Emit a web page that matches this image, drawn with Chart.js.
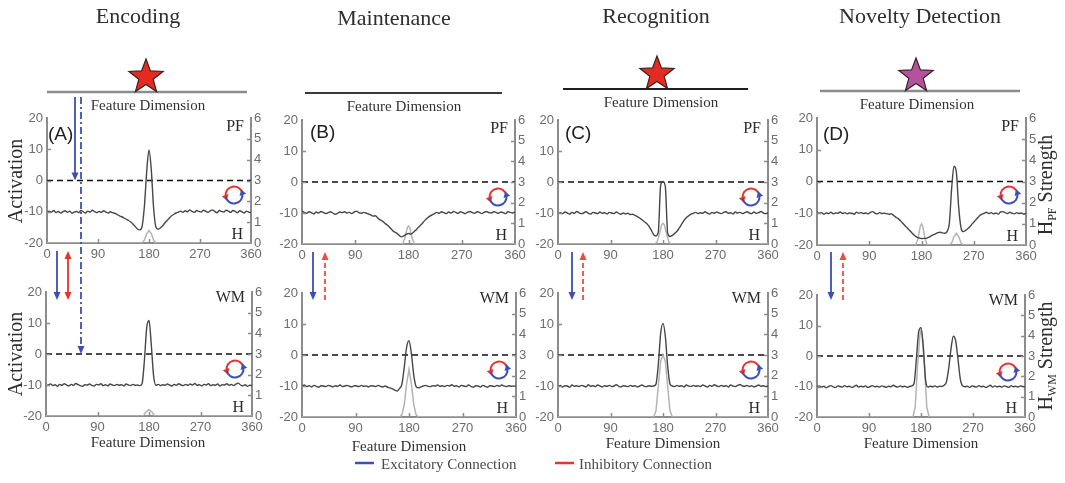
<!DOCTYPE html>
<html>
<head>
<meta charset="utf-8">
<script src="https://cdn.jsdelivr.net/npm/chart.js@4.4.1/dist/chart.umd.min.js"></script>
<style>
  html, body { margin: 0; padding: 0; background: #ffffff; }
  #stage { position: relative; width: 1065px; height: 483px; overflow: hidden; background: #ffffff; }
  #stage canvas { position: absolute; }
</style>
</head>
<body>
<div id="stage"></div>
<script>
// ---- Feature dimension sample points (degrees) ----
const angles = [0,4,8,12,16,20,24,28,32,36,40,44,48,52,56,60,64,68,72,76,80,84,88,92,96,100,104,108,112,116,
  120,124,128,132,136,140,144,148,152,156,160,164,168,172,176,180,184,188,192,196,200,204,208,212,216,220,224,228,232,236,
  240,244,248,252,256,260,264,268,272,276,280,284,288,292,296,300,304,308,312,316,320,324,328,332,336,340,344,348,352,356,360];

// ---- Tick labels ----
const xTicks = [0, 90, 180, 270, 360];
const activationTicks = [-20, -10, 0, 10, 20];
const strengthTicks = [0, 1, 2, 3, 4, 5, 6];

// ---- Field activation (PF = perceptual field, WM = working memory) ----
const encodingPF = [
  -10.2,-9.8,-10.1,-9.6,-10.3,-9.9,-10.4,-10.0,-9.7,-10.2,
  -9.8,-10.5,-10.1,-9.9,-10.3,-9.6,-10.0,-10.4,-9.8,-10.1,
  -9.5,-10.0,-10.3,-9.9,-10.2,-9.7,-10.1,-10.4,-10.0,-10.3,
  -10.5,-10.9,-11.3,-11.6,-12.0,-12.4,-12.8,-13.3,-14.0,-14.8,
  -15.6,-15.8,-14.5,-8.0,3.0,9.8,3.5,-8.5,-14.8,-15.6,
  -15.2,-14.5,-13.6,-12.8,-12.0,-11.3,-10.8,-10.4,-10.1,-9.8,
  -10.2,-9.7,-10.0,-9.4,-9.9,-10.2,-9.6,-9.9,-10.1,-9.5,
  -9.8,-10.2,-9.7,-9.4,-9.9,-10.3,-9.6,-9.9,-10.1,-9.5,
  -9.8,-10.2,-9.6,-9.9,-10.3,-9.7,-10.0,-10.4,-9.8,-10.1,
  -10.3];
const encodingWM = [
  -10.3,-10.0,-9.7,-10.2,-9.9,-10.4,-9.8,-10.1,-9.6,-10.0,
  -10.3,-9.8,-10.1,-9.5,-9.9,-10.2,-10.4,-9.9,-10.0,-9.7,
  -10.1,-10.3,-9.8,-10.0,-9.6,-10.2,-9.9,-10.3,-9.7,-10.0,
  -10.2,-9.8,-10.1,-9.9,-10.3,-9.7,-10.0,-10.2,-9.8,-10.1,
  -10.0,-10.2,-9.5,-2.0,8.5,10.8,3.0,-7.0,-10.1,-9.8,
  -10.2,-9.9,-10.1,-9.7,-10.0,-10.3,-9.8,-10.1,-9.6,-10.0,
  -10.2,-9.8,-10.1,-9.7,-10.0,-9.5,-10.1,-9.9,-10.3,-9.8,
  -10.0,-9.6,-10.2,-9.9,-10.1,-9.7,-10.3,-9.9,-10.0,-9.6,
  -10.1,-9.8,-10.2,-9.7,-9.4,-10.0,-10.3,-9.9,-10.4,-10.1,
  -10.2];
const maintenancePF = [
  -9.4,-9.8,-10.1,-9.6,-9.9,-10.3,-9.7,-10.0,-9.5,-9.8,
  -10.2,-9.9,-9.6,-10.0,-10.4,-10.1,-9.7,-9.9,-9.6,-10.0,
  -9.8,-10.2,-9.7,-9.4,-9.9,-10.1,-9.8,-10.0,-10.3,-10.6,
  -11.0,-10.9,-11.6,-12.2,-12.6,-13.3,-13.9,-14.6,-15.4,-16.1,
  -16.5,-17.2,-17.7,-17.4,-16.9,-16.6,-16.8,-16.3,-15.6,-14.8,
  -14.0,-13.2,-12.3,-11.6,-11.0,-10.6,-10.2,-9.8,-10.1,-9.6,
  -9.9,-10.2,-9.7,-10.0,-9.5,-9.8,-10.1,-9.6,-9.9,-10.2,
  -9.7,-9.5,-9.9,-10.1,-9.6,-9.8,-10.2,-9.7,-9.5,-9.9,
  -10.0,-9.6,-9.8,-10.1,-9.7,-9.9,-10.2,-9.6,-9.8,-10.0,
  -9.7];
const maintenanceWM = [
  -10.0,-9.7,-10.2,-9.9,-10.3,-9.8,-10.1,-10.4,-9.9,-10.0,
  -10.2,-9.8,-10.0,-10.3,-9.9,-10.1,-9.7,-10.2,-10.0,-9.8,
  -10.1,-10.3,-9.9,-10.0,-10.2,-9.8,-10.1,-10.0,-10.3,-9.9,
  -10.0,-10.2,-9.8,-10.1,-10.3,-10.0,-10.4,-10.6,-10.9,-11.3,
  -11.6,-10.8,-9.5,-4.0,2.5,4.6,0.5,-6.5,-10.2,-10.6,
  -10.3,-10.0,-9.8,-10.1,-10.2,-9.9,-10.0,-9.7,-10.1,-9.9,
  -10.2,-9.8,-10.0,-9.6,-10.1,-9.9,-10.3,-9.8,-10.0,-10.2,
  -9.7,-10.1,-10.4,-9.9,-10.0,-10.3,-9.8,-10.1,-10.4,-9.9,
  -10.0,-10.2,-9.8,-10.1,-9.7,-10.0,-10.2,-9.9,-10.1,-10.0,
  -10.1];
const recognitionPF = [
  -10.3,-9.9,-10.2,-9.7,-10.0,-10.4,-9.8,-10.1,-9.5,-9.9,
  -10.2,-10.0,-9.6,-10.1,-10.3,-9.8,-10.0,-10.2,-9.7,-10.1,
  -9.9,-10.3,-9.8,-10.0,-10.2,-9.7,-10.1,-10.4,-10.0,-10.3,
  -10.1,-10.5,-10.4,-10.8,-11.2,-11.6,-12.2,-12.8,-13.4,-14.3,
  -15.6,-17.0,-17.4,-16.0,-1.0,0.2,-1.5,-16.5,-17.6,-17.2,
  -16.6,-15.9,-14.8,-13.6,-12.4,-11.5,-10.9,-10.4,-10.1,-9.8,
  -10.2,-9.9,-10.1,-9.6,-10.0,-10.3,-9.8,-10.1,-9.7,-10.0,
  -10.2,-9.8,-9.6,-10.1,-9.9,-10.3,-9.7,-10.0,-9.8,-10.2,
  -9.9,-9.6,-10.0,-10.2,-9.7,-10.1,-9.9,-9.5,-10.0,-10.2,
  -10.0];
const recognitionWM = [
  -10.1,-9.8,-10.3,-9.9,-10.0,-10.4,-9.7,-10.1,-9.9,-10.2,
  -9.8,-10.0,-10.3,-9.6,-10.1,-9.9,-10.2,-9.7,-10.0,-10.3,
  -9.9,-10.1,-9.8,-10.2,-10.0,-9.6,-10.1,-10.3,-9.9,-10.0,
  -10.2,-9.8,-10.1,-9.9,-10.3,-10.0,-9.7,-10.1,-10.2,-9.9,
  -10.1,-10.0,-9.4,-3.0,7.0,10.2,6.0,-3.5,-9.4,-10.0,
  -10.2,-9.8,-10.1,-9.9,-10.3,-9.7,-10.0,-10.2,-9.8,-10.1,
  -9.9,-10.2,-9.7,-10.0,-10.3,-9.8,-10.1,-9.6,-10.0,-10.2,
  -9.8,-10.1,-9.9,-10.3,-9.7,-10.0,-10.2,-9.8,-9.5,-10.0,
  -10.1,-9.8,-10.2,-9.9,-10.3,-10.0,-9.7,-10.1,-9.9,-10.2,
  -10.0];
const noveltyPF = [
  -9.6,-10.0,-9.8,-10.3,-9.9,-10.1,-9.7,-10.2,-9.9,-10.0,
  -9.6,-10.1,-9.8,-10.2,-9.9,-10.0,-10.3,-9.7,-10.0,-9.8,
  -10.1,-9.9,-10.2,-9.7,-9.5,-10.0,-10.2,-9.8,-10.1,-10.0,
  -10.1,-10.3,-10.2,-10.7,-11.3,-11.7,-12.4,-13.2,-14.0,-14.7,
  -15.5,-16.3,-17.0,-17.5,-17.8,-18.0,-17.9,-17.9,-17.6,-17.2,
  -16.8,-16.5,-16.1,-16.0,-16.2,-16.3,-15.8,-13.0,-2.0,4.8,
  3.0,-8.0,-14.5,-15.8,-15.4,-14.8,-14.1,-13.2,-12.4,-11.6,
  -10.8,-10.3,-10.0,-9.7,-10.1,-9.8,-10.2,-9.9,-10.3,-9.6,
  -9.5,-9.8,-10.1,-9.7,-10.0,-10.2,-9.8,-10.1,-9.9,-10.3,
  -10.0];
const noveltyWM = [
  -10.1,-9.8,-10.2,-9.9,-10.4,-10.0,-9.7,-10.1,-10.3,-9.8,
  -10.0,-10.2,-9.7,-10.1,-9.9,-10.3,-10.0,-9.6,-10.2,-9.9,
  -10.1,-9.8,-10.3,-10.0,-9.7,-10.1,-9.9,-10.2,-9.8,-10.0,
  -10.3,-9.9,-10.1,-9.6,-10.0,-10.2,-9.8,-10.1,-9.9,-10.3,
  -10.0,-9.8,-9.0,-1.0,8.0,9.3,3.0,-8.0,-10.2,-9.9,
  -10.1,-9.8,-10.2,-9.9,-10.0,-9.6,-8.5,-4.0,2.5,6.5,
  5.0,-1.0,-7.5,-9.8,-10.1,-9.9,-10.3,-9.8,-10.0,-10.2,
  -9.7,-10.1,-9.9,-10.3,-10.0,-9.6,-10.2,-9.8,-10.1,-9.9,
  -10.2,-9.8,-10.0,-10.3,-9.7,-10.1,-9.9,-10.2,-9.8,-10.0,
  -10.1];

// ---- Habituation (H) strength, sampled where it changes ----
const hEncodingPF_x = [0,168,172,176,180,184,188,192,360];
const hEncodingPF_y = [0,0,0.15,0.45,0.6,0.45,0.15,0,0];
const hEncodingWM_x = [0,170,175,180,185,190,360];
const hEncodingWM_y = [0,0,0.2,0.3,0.2,0,0];
const hMaintenancePF_x = [0,170,174,178,180,182,186,190,360];
const hMaintenancePF_y = [0,0,0.3,0.8,0.87,0.8,0.3,0,0];
const hMaintenanceWM_x = [0,164,168,172,176,180,184,188,192,196,360];
const hMaintenanceWM_y = [0,0,0.1,0.6,1.6,2.3,1.6,0.6,0.1,0,0];
const hRecognitionPF_x = [0,166,170,174,178,180,182,186,190,194,360];
const hRecognitionPF_y = [0,0,0.1,0.5,0.95,1.0,0.95,0.5,0.1,0,0];
const hRecognitionWM_x = [0,164,168,172,176,180,184,188,192,196,360];
const hRecognitionWM_y = [0,0,0.3,1.5,2.7,3.0,2.7,1.5,0.3,0,0];
const hNoveltyPF_x = [0,170,174,178,180,182,186,190,228,232,236,240,244,248,252,360];
const hNoveltyPF_y = [0,0,0.3,0.9,1.0,0.9,0.3,0,0,0.1,0.4,0.55,0.4,0.1,0,0];
const hNoveltyWM_x = [0,166,170,174,178,180,182,186,190,194,360];
const hNoveltyWM_y = [0,0,0.5,2.5,4.0,4.3,4.0,2.5,0.5,0,0];

// ---- Threshold line (activation = 0) ----
const thresholdX = [0, 360];
const thresholdY = [0, 0];

// ---- Panel placement: plot-area box [left, right, top, bottom] in page pixels ----
const panels = [
  { act: encodingPF,    hx: hEncodingPF_x,    hy: hEncodingPF_y,    tag: 'PF', letter: '(A)', letterPos: [1, 17], box: [47, 251, 118, 243] },
  { act: maintenancePF, hx: hMaintenancePF_x, hy: hMaintenancePF_y, tag: 'PF', letter: '(B)', letterPos: [8, 13], box: [302, 515, 120, 244] },
  { act: recognitionPF, hx: hRecognitionPF_x, hy: hRecognitionPF_y, tag: 'PF', letter: '(C)', letterPos: [7, 14], box: [558, 768, 120, 244] },
  { act: noveltyPF,     hx: hNoveltyPF_x,     hy: hNoveltyPF_y,     tag: 'PF', letter: '(D)', letterPos: [6, 17], box: [817, 1026, 118, 245] },
  { act: encodingWM,    hx: hEncodingWM_x,    hy: hEncodingWM_y,    tag: 'WM', letter: '',    letterPos: [0, 0],  box: [46, 252, 292, 416] },
  { act: maintenanceWM, hx: hMaintenanceWM_x, hy: hMaintenanceWM_y, tag: 'WM', letter: '',    letterPos: [0, 0],  box: [302, 516, 293, 417] },
  { act: recognitionWM, hx: hRecognitionWM_x, hy: hRecognitionWM_y, tag: 'WM', letter: '',    letterPos: [0, 0],  box: [558, 768, 293, 417] },
  { act: noveltyWM,     hx: hNoveltyWM_x,     hy: hNoveltyWM_y,     tag: 'WM', letter: '',    letterPos: [0, 0],  box: [817, 1025, 295, 417] }
];

const AXIS_GRAY = '#8c8c8c';
const TICK_FONT = { family: '"Liberation Sans Narrow", "Arial Narrow", "Liberation Sans", Arial, sans-serif', size: 13 };
const SERIF = '"Liberation Serif", "Times New Roman", serif';
const SANS = '"Liberation Sans", Arial, sans-serif';
const BLUE = '#3b4fb4';
const RED = '#e8322b';

const PAD_LEFT = 40, PAD_RIGHT = 30, PAD_TOP = 14, PAD_BOTTOM = 22;

function arrowHead(ctx, x, y, dx, dy, len, half, color) {
  const n = Math.hypot(dx, dy); dx /= n; dy /= n;
  ctx.fillStyle = color;
  ctx.beginPath();
  ctx.moveTo(x, y);
  ctx.lineTo(x - dx * len - dy * half, y - dy * len + dx * half);
  ctx.lineTo(x - dx * len + dy * half, y - dy * len - dx * half);
  ctx.closePath();
  ctx.fill();
}

// Red/blue recurrent loop symbol
function loopIcon(ctx, cx, cy) {
  const r = 8.5;
  ctx.save();
  ctx.lineWidth = 2;
  ctx.setLineDash([]);
  const redEnd = -Math.PI - 0.3;
  ctx.strokeStyle = RED;
  ctx.beginPath(); ctx.arc(cx, cy, r, -0.2, redEnd, true); ctx.stroke();
  arrowHead(ctx, cx + r * Math.cos(redEnd) + Math.sin(redEnd) * 3, cy + r * Math.sin(redEnd) - Math.cos(redEnd) * 3,
            Math.sin(redEnd), -Math.cos(redEnd), 5.5, 3.5, RED);
  const blueEnd = -0.3;
  ctx.strokeStyle = BLUE;
  ctx.beginPath(); ctx.arc(cx, cy, r, Math.PI - 0.2, blueEnd, true); ctx.stroke();
  arrowHead(ctx, cx + r * Math.cos(blueEnd) + Math.sin(blueEnd) * 3, cy + r * Math.sin(blueEnd) - Math.cos(blueEnd) * 3,
            Math.sin(blueEnd), -Math.cos(blueEnd), 5.5, 3.5, BLUE);
  ctx.restore();
}

// Inward tick marks, field tags and the loop symbol inside each panel
const panelMarks = {
  id: 'panelMarks',
  afterDraw(chart, args, opts) {
    const { ctx, chartArea: a, scales } = chart;
    ctx.save();
    ctx.strokeStyle = AXIS_GRAY;
    ctx.lineWidth = 1.5;
    ctx.beginPath();
    scales.y.ticks.forEach(t => {
      if (t.value > -20 && t.value < 20) {
        const py = Math.round(scales.y.getPixelForValue(t.value)) + 0.5;
        ctx.moveTo(a.left, py); ctx.lineTo(a.left + 4, py);
      }
    });
    scales.y1.ticks.forEach(t => {
      if (t.value > 0 && t.value < 6) {
        const py = Math.round(scales.y1.getPixelForValue(t.value)) + 0.5;
        ctx.moveTo(a.right - 4, py); ctx.lineTo(a.right, py);
      }
    });
    scales.x.ticks.forEach(t => {
      if (t.value > 0 && t.value < 360) {
        const px = Math.round(scales.x.getPixelForValue(t.value)) + 0.5;
        ctx.moveTo(px, a.bottom); ctx.lineTo(px, a.bottom - 4);
      }
    });
    ctx.stroke();

    ctx.fillStyle = '#2a2a2a';
    ctx.textBaseline = 'middle';
    ctx.textAlign = 'right';
    ctx.font = '16px ' + SERIF;
    ctx.fillText(opts.tag, a.right - 7, a.top + (opts.tag === 'PF' ? 9 : 6));
    ctx.fillText('H', a.right - 8, a.bottom - 8);
    if (opts.letter) {
      ctx.textAlign = 'left';
      ctx.font = '19px ' + SANS;
      ctx.fillStyle = '#1e1e1e';
      ctx.fillText(opts.letter, a.left + opts.letterPos[0], a.top + opts.letterPos[1]);
    }
    loopIcon(ctx, a.right - 17, a.top + 77);
    ctx.restore();
  }
};

const stage = document.getElementById('stage');
const charts = [];

panels.forEach(p => {
  const [L, R, T, B] = p.box;
  const cv = document.createElement('canvas');
  cv.width = R - L + PAD_LEFT + PAD_RIGHT;
  cv.height = B - T + PAD_TOP + PAD_BOTTOM;
  cv.style.left = (L - PAD_LEFT) + 'px';
  cv.style.top = (T - PAD_TOP) + 'px';
  cv.style.width = cv.width + 'px';
  cv.style.height = cv.height + 'px';
  stage.appendChild(cv);

  const tickStyle = { color: '#6c6c6c', font: TICK_FONT, autoSkip: false, maxRotation: 0, minRotation: 0 };

  charts.push(new Chart(cv, {
    type: 'line',
    data: {
      datasets: [
        { data: angles.map((x, i) => ({ x, y: p.act[i] })), yAxisID: 'y', borderColor: '#474747', borderWidth: 1.4,
          cubicInterpolationMode: 'monotone', fill: false },
        { data: p.hx.map((x, i) => ({ x, y: p.hy[i] })), yAxisID: 'y1', borderColor: '#b4b4b4', borderWidth: 1.5, fill: false },
        { data: thresholdX.map((x, i) => ({ x, y: thresholdY[i] })), yAxisID: 'y', borderColor: '#111111', borderWidth: 1.4,
          borderDash: [6, 4], fill: false }
      ]
    },
    options: {
      responsive: false,
      animation: false,
      devicePixelRatio: 1,
      events: [],
      layout: { padding: { top: PAD_TOP, left: 0, right: 0, bottom: 0 } },
      elements: { point: { radius: 0 }, line: { tension: 0 } },
      plugins: {
        legend: { display: false },
        tooltip: { enabled: false },
        panelMarks: { tag: p.tag, letter: p.letter, letterPos: p.letterPos }
      },
      scales: {
        x: {
          type: 'linear', position: 'bottom', min: xTicks[0], max: xTicks[xTicks.length - 1],
          afterBuildTicks: s => { s.ticks = xTicks.map(v => ({ value: v })); },
          afterFit: s => { s.height = PAD_BOTTOM; },
          grid: { display: false, drawTicks: false },
          border: { display: true, color: AXIS_GRAY, width: 2 },
          ticks: Object.assign({ padding: 4 }, tickStyle)
        },
        y: {
          type: 'linear', position: 'left', min: activationTicks[0], max: activationTicks[activationTicks.length - 1],
          afterBuildTicks: s => { s.ticks = activationTicks.map(v => ({ value: v })); },
          afterFit: s => { s.width = PAD_LEFT; },
          grid: { display: false, drawTicks: false },
          border: { display: true, color: AXIS_GRAY, width: 2 },
          ticks: Object.assign({ padding: 4 }, tickStyle)
        },
        y1: {
          type: 'linear', position: 'right', min: strengthTicks[0], max: strengthTicks[strengthTicks.length - 1],
          afterBuildTicks: s => { s.ticks = strengthTicks.map(v => ({ value: v })); },
          afterFit: s => { s.width = PAD_RIGHT; },
          grid: { display: false, drawTicks: false },
          border: { display: true, color: AXIS_GRAY, width: 2 },
          ticks: Object.assign({ padding: 3 }, tickStyle)
        }
      }
    },
    plugins: [panelMarks]
  }));
});

// ---- Figure-level annotations: stage headers, input arrows, axis names, legend ----
const ov = document.createElement('canvas');
ov.width = 1065; ov.height = 483;
ov.style.left = '0px'; ov.style.top = '0px';
ov.style.pointerEvents = 'none';
stage.appendChild(ov);
const g = ov.getContext('2d');

function star(cx, cy, R, fill) {
  const r = R * 0.42;
  g.beginPath();
  for (let i = 0; i < 10; i++) {
    const ang = -Math.PI / 2 + i * Math.PI / 5;
    const rad = i % 2 === 0 ? R : r;
    const x = cx + rad * Math.cos(ang), y = cy + rad * Math.sin(ang);
    if (i === 0) g.moveTo(x, y); else g.lineTo(x, y);
  }
  g.closePath();
  g.fillStyle = fill; g.fill();
  g.strokeStyle = '#3a2020'; g.lineWidth = 1.2; g.stroke();
}

function vArrow(x, y0, y1, color, dash, heads) {
  const len = 8, half = 3.5;
  const dir = Math.sign(y1 - y0);
  g.save();
  g.strokeStyle = color; g.lineWidth = 1.8;
  g.setLineDash(dash || []);
  const a = heads.start ? y0 + dir * (len - 1) : y0;
  const b = heads.end ? y1 - dir * (len - 1) : y1;
  g.beginPath(); g.moveTo(x, a); g.lineTo(x, b); g.stroke();
  g.setLineDash([]);
  if (heads.end) arrowHead(g, x, y1, 0, dir, len, half, color);
  if (heads.start) arrowHead(g, x, y0, 0, -dir, len, half, color);
  g.restore();
}

const headers = [
  { title: 'Encoding',          cx: 138, ty: 23, line: [47, 247, 92, AXIS_GRAY, 2.5], star: '#e42b22', sx: 146, fx: 148 },
  { title: 'Maintenance',       cx: 394, ty: 25, line: [305, 502, 93, '#3a3a3a', 2],  star: null,      sx: 0,   fx: 404 },
  { title: 'Recognition',       cx: 656, ty: 23, line: [563, 748, 89, '#1e1e1e', 2],  star: '#e42b22', sx: 657, fx: 661 },
  { title: 'Novelty Detection', cx: 920, ty: 23, line: [820, 1020, 91, AXIS_GRAY, 2.5], star: '#b5529f', sx: 916, fx: 917 }
];

g.textAlign = 'center';
g.textBaseline = 'alphabetic';
headers.forEach(h => {
  g.fillStyle = '#2e2e2e';
  g.font = '22px ' + SERIF;
  g.fillText(h.title, h.cx, h.ty);
  const [x0, x1, ly, col, lw] = h.line;
  g.strokeStyle = col; g.lineWidth = lw;
  g.beginPath(); g.moveTo(x0, ly); g.lineTo(x1, ly); g.stroke();
  if (h.star) star(h.sx, ly - 15, 18, h.star);
  g.fillStyle = '#333333';
  g.font = '15px ' + SERIF;
  g.fillText('Feature Dimension', h.fx, ly + 18);
});

// Axis names under the lower row
[[148, 447], [409, 451], [663, 448], [921, 448]].forEach(([x, y]) => {
  g.fillStyle = '#333333';
  g.font = '15px ' + SERIF;
  g.textAlign = 'center';
  g.fillText('Feature Dimension', x, y);
});

// Vertical axis names
function vText(cx, cy, parts) {
  g.save();
  g.translate(cx, cy);
  g.rotate(-Math.PI / 2);
  g.fillStyle = '#2e2e2e';
  g.textAlign = 'left';
  let total = 0;
  parts.forEach(pt => { g.font = pt.size + 'px ' + SERIF; total += g.measureText(pt.text).width; });
  let x = -total / 2;
  parts.forEach(pt => {
    g.font = pt.size + 'px ' + SERIF;
    g.fillText(pt.text, x, 7 + (pt.sub || 0));
    x += g.measureText(pt.text).width;
  });
  g.restore();
}
vText(15, 181, [{ text: 'Activation', size: 20 }]);
vText(15, 354, [{ text: 'Activation', size: 20 }]);
vText(1045, 185, [{ text: 'H', size: 20 }, { text: 'PF', size: 12, sub: 4 }, { text: ' Strength', size: 20 }]);
vText(1045, 356, [{ text: 'H', size: 20 }, { text: 'WM', size: 12, sub: 4 }, { text: ' Strength', size: 20 }]);

// Input arrows
const zeroTopA = charts[0].scales.y.getPixelForValue(0) + (panels[0].box[2] - PAD_TOP);
const zeroBotA = charts[4].scales.y.getPixelForValue(0) + (panels[4].box[2] - PAD_TOP);
vArrow(75, 97, zeroTopA, BLUE, null, { end: true });
vArrow(81, 97, zeroBotA, BLUE, [7, 3, 2, 3], { end: true });
vArrow(57, 251, 300, BLUE, null, { end: true });
vArrow(68, 251, 300, RED, null, { start: true, end: true });
[[313, 325], [572, 583], [831, 843]].forEach(([bx, rx]) => {
  vArrow(bx, 252, 300, BLUE, null, { end: true });
  vArrow(rx, 300, 252, '#ee4a44', [5, 3], { end: true });
});

// Legend
g.lineWidth = 2.5;
g.strokeStyle = BLUE;
g.beginPath(); g.moveTo(355, 463); g.lineTo(374, 463); g.stroke();
g.strokeStyle = RED;
g.beginPath(); g.moveTo(555, 463); g.lineTo(574, 463); g.stroke();
g.fillStyle = '#4a4a4a';
g.font = '15px ' + SERIF;
g.textAlign = 'left';
g.fillText('Excitatory Connection', 381, 469);
g.fillText('Inhibitory Connection', 579, 469);
</script>
</body>
</html>
